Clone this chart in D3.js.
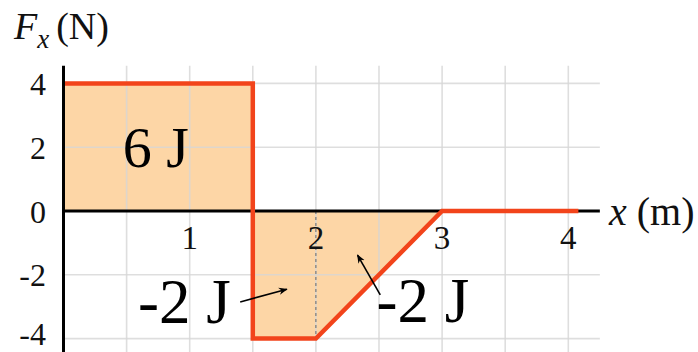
<!DOCTYPE html>
<html>
<head>
<meta charset="utf-8">
<script src="https://cdn.jsdelivr.net/npm/d3@7"></script>
<style>
  html, body { margin: 0; padding: 0; background: #ffffff; }
  svg { display: block; font-family: "Liberation Serif", "DejaVu Serif", serif; }
</style>
</head>
<body>
<svg id="chart" width="698" height="352"></svg>
<script>
// Force versus position, piecewise linear
const forceX = [0, 1.5, 1.5, 2, 3, 4.08];
const forceF = [4, 4, -4, -4, 0, 0];

// Shaded work areas (area between the curve and F = 0)
const areaX = [0, 1.5, 1.5, 2, 3];
const areaF = [4, 4, -4, -4, 0];

const xTicks = [1, 2, 3, 4];
const yTicks = [4, 2, 0, -2, -4];
const xGrid = [0.5, 1, 1.5, 2, 2.5, 3, 3.5, 4];
const yGrid = [4, 2, -2, -4];

// Work labels and their pointer arrows
const workLabels = [
  { text: "6 J", x: 0.47, f: 1.38 },
  { text: "-2 J", x: 0.59, f: -3.51 },
  { text: "-2 J", x: 2.48, f: -3.48 }
];
const arrows = [
  { x1: 1.40, f1: -2.85, x2: 1.77, f2: -2.45 },
  { x1: 2.51, f1: -2.63, x2: 2.33, f2: -1.38 }
];

const svg = d3.select("#chart");
const x = d3.scaleLinear().domain([0, 4]).range([63.5, 568.3]);
const y = d3.scaleLinear().domain([-4, 4]).range([338.6, 83.4]);

const xMin = 0, xMax = 4.25, fTop = 4.55, fBottom = -4.45;

// Filled areas
const areaPts = areaX.map((v, i) => [v, areaF[i]]);
svg.append("path")
  .datum(areaPts)
  .attr("fill", "#fdd6a6")
  .attr("d", d3.area().x(d => x(d[0])).y0(y(0)).y1(d => y(d[1])));

// Grid, faintly visible over the fill
const grid = svg.append("g").attr("stroke", "#d6d6d6").attr("stroke-width", 1.6)
  .attr("stroke-opacity", 0.8);
grid.selectAll("line.v").data(xGrid).join("line")
  .attr("x1", d => x(d)).attr("x2", d => x(d))
  .attr("y1", y(fTop)).attr("y2", y(fBottom));
grid.selectAll("line.h").data(yGrid).join("line")
  .attr("x1", x(xMin)).attr("x2", x(xMax))
  .attr("y1", d => y(d)).attr("y2", d => y(d));

// Dashed divider at x = 2
svg.append("line")
  .attr("x1", x(2)).attr("x2", x(2))
  .attr("y1", y(0)).attr("y2", y(-4))
  .attr("stroke", "#666").attr("stroke-width", 1)
  .attr("stroke-dasharray", "3,3");

// x axis
svg.append("line")
  .attr("x1", x(0)).attr("x2", x(xMax))
  .attr("y1", y(0)).attr("y2", y(0))
  .attr("stroke", "#000").attr("stroke-width", 3);

// Force curve
const pts = forceX.map((v, i) => [v, forceF[i]]);
svg.append("path")
  .datum(pts)
  .attr("fill", "none")
  .attr("stroke", "#f2441b")
  .attr("stroke-width", 4.5)
  .attr("stroke-linejoin", "miter")
  .attr("d", d3.line().x(d => x(d[0])).y(d => y(d[1])));

// y axis
svg.append("line")
  .attr("x1", x(0)).attr("x2", x(0))
  .attr("y1", y(fTop)).attr("y2", 352)
  .attr("stroke", "#000").attr("stroke-width", 3);

// Tick labels
svg.append("g").selectAll("text").data(xTicks).join("text")
  .attr("x", d => x(d)).attr("y", 249)
  .attr("text-anchor", "middle")
  .attr("font-size", 33)
  .attr("fill", "#111")
  .text(d => d);

svg.append("g").selectAll("text").data(yTicks).join("text")
  .attr("x", 46).attr("y", d => Math.min(y(d) + 11.5, 345))
  .attr("text-anchor", "end")
  .attr("font-size", 32)
  .attr("fill", "#111")
  .text(d => d);

// Axis titles
const yTitle = svg.append("text")
  .attr("x", 14).attr("y", 39)
  .attr("font-size", 38).attr("fill", "#111");
yTitle.append("tspan").attr("font-style", "italic").text("F");
yTitle.append("tspan").attr("font-style", "italic").attr("font-size", 27)
  .attr("dy", 9).text("x");
yTitle.append("tspan").attr("dy", -9).attr("dx", 7).text("(N)");

const xTitle = svg.append("text")
  .attr("x", 609).attr("y", 225)
  .attr("font-size", 40).attr("fill", "#111");
xTitle.append("tspan").attr("font-style", "italic").text("x");
xTitle.append("tspan").text(" (m)");

// Work labels
svg.append("g").selectAll("text").data(workLabels).join("text")
  .attr("x", d => x(d.x)).attr("y", d => y(d.f))
  .attr("font-size", (d, i) => i === 0 ? 58 : 63)
  .attr("fill", "#000")
  .attr("xml:space", "preserve")
  .text(d => d.text);

// Arrows
svg.append("defs").append("marker")
  .attr("id", "head")
  .attr("viewBox", "0 0 10 10")
  .attr("refX", 9).attr("refY", 5)
  .attr("markerWidth", 9).attr("markerHeight", 9)
  .attr("markerUnits", "userSpaceOnUse")
  .attr("orient", "auto")
  .append("path").attr("d", "M0,1 L10,5 L0,9 L3,5 Z").attr("fill", "#000");

svg.append("g").selectAll("line").data(arrows).join("line")
  .attr("x1", d => x(d.x1)).attr("y1", d => y(d.f1))
  .attr("x2", d => x(d.x2)).attr("y2", d => y(d.f2))
  .attr("stroke", "#000").attr("stroke-width", 1.6)
  .attr("marker-end", "url(#head)");
</script>
</body>
</html>
